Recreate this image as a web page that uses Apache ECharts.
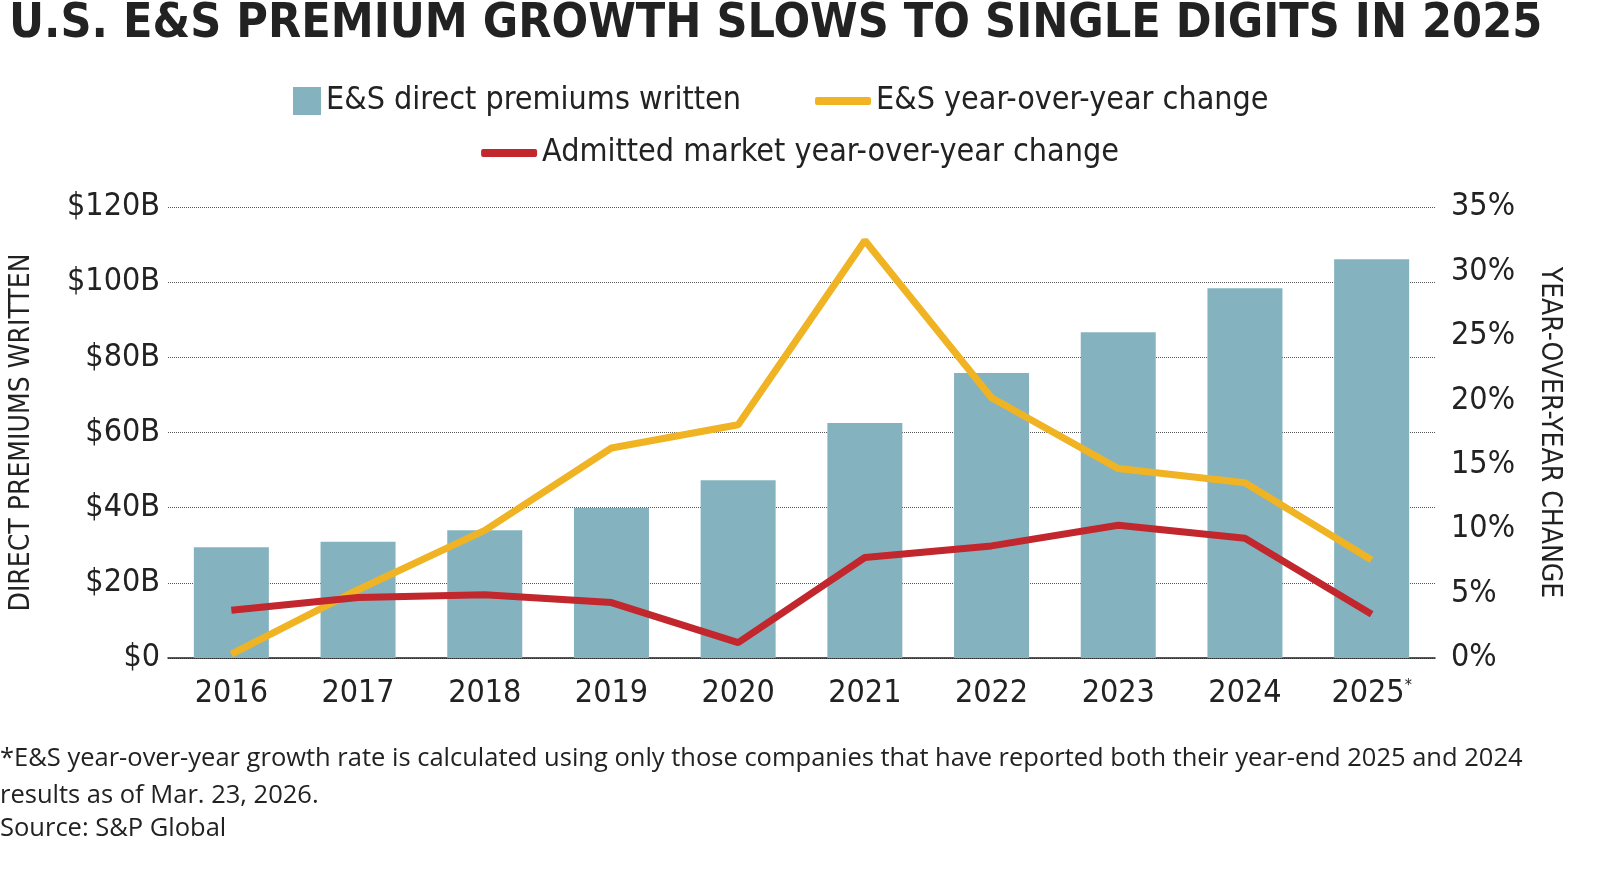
<!DOCTYPE html>
<html><head><meta charset="utf-8">
<script src="https://cdn.jsdelivr.net/npm/echarts@6/dist/echarts.min.js"></script>
<style>html,body{margin:0;padding:0;background:#fff}#c{width:1600px;height:870px}</style>
</head><body><div id="c"></div>
<script>
const categories=['2016','2017','2018','2019','2020','2021','2022','2023','2024','2025'];
const premiums=[29.5,30.9,34,39.9,47.3,62.5,75.8,86.7,98.4,106.1];
const esChange=[0.3,5.3,9.9,16.3,18.1,32.4,20.2,14.7,13.6,7.6];
const admittedChange=[3.7,4.7,4.9,4.3,1.2,7.8,8.7,10.3,9.3,3.4];
const leftTicks=['$0','$20B','$40B','$60B','$80B','$100B','$120B'];
const chart=echarts.init(document.getElementById('c'));
const LT={fontFamily:'DejaVu Sans Condensed',fontSize:32,color:'#222'};
chart.setOption({
 animation:false,
 title:{text:'U.S. E&S PREMIUM GROWTH SLOWS TO SINGLE DIGITS IN 2025',left:4,top:-4,
  textStyle:{fontFamily:'DejaVu Sans Condensed',fontWeight:'bold',fontSize:48,color:'#222'}},
 graphic:[
  {type:'text',left:0,top:740,style:{text:'*E&S year-over-year growth rate is calculated using only those companies that have reported both their year-end 2025 and 2024\nresults as of Mar. 23, 2026.',font:'25.5px "Open Sans"',fill:'#222',lineHeight:37}},
  {type:'text',left:0,top:816,style:{text:'Source: S&P Global',font:'25.5px "Open Sans"',fill:'#222'}}
 ],
 legend:[
  {top:80,left:288,itemWidth:28,itemHeight:28,textStyle:LT,data:[{name:'E&S direct premiums written',icon:'rect'}]},
  {top:80,left:810,itemWidth:56,itemHeight:8,textStyle:LT,data:[{name:'E&S year-over-year change',icon:'roundRect'}]},
  {top:132,left:'center',itemWidth:56,itemHeight:8,textStyle:LT,data:[{name:'Admitted market year-over-year change',icon:'roundRect'}]}
 ],
 grid:{left:158,right:165,top:207,bottom:212},
 xAxis:{type:'category',data:categories,axisTick:{show:false},axisLine:{lineStyle:{color:'#222',width:1.5}},
  axisLabel:{interval:0,fontFamily:'DejaVu Sans Condensed',fontSize:32,color:'#222',margin:20,
   formatter:v=>v==='2025'?'2025{s|*}':v,rich:{s:{fontSize:16,verticalAlign:'top',padding:[0,0,14,0],fontFamily:'DejaVu Sans Condensed',color:'#222'}}}},
 yAxis:[
  {type:'value',min:0,max:120,interval:20,name:'DIRECT PREMIUMS WRITTEN',nameLocation:'middle',nameGap:132,
   nameTextStyle:{fontFamily:'DejaVu Sans Condensed',fontSize:28,color:'#222'},
   axisLabel:{fontFamily:'DejaVu Sans Condensed',fontSize:32,color:'#222',formatter:v=>leftTicks[v/20]},
   splitLine:{lineStyle:{color:'#555',type:'dotted'}}},
  {type:'value',min:0,max:35,interval:5,name:'YEAR-OVER-YEAR CHANGE',nameLocation:'middle',nameGap:100,nameRotate:-90,
   nameTextStyle:{fontFamily:'DejaVu Sans Condensed',fontSize:28,color:'#222'},
   axisLabel:{fontFamily:'DejaVu Sans Condensed',fontSize:32,color:'#222',formatter:'{value}%',margin:16},
   splitLine:{show:false}}
 ],
 series:[
  {name:'E&S direct premiums written',type:'bar',data:premiums,barWidth:75,itemStyle:{color:'#84b3bf'}},
  {name:'E&S year-over-year change',type:'line',yAxisIndex:1,data:esChange,symbol:'none',lineStyle:{width:7,color:'#f0b323'},itemStyle:{color:'#f0b323'}},
  {name:'Admitted market year-over-year change',type:'line',yAxisIndex:1,data:admittedChange,symbol:'none',lineStyle:{width:7,color:'#c1272d'},itemStyle:{color:'#c1272d'}}
 ]
});
</script></body></html>
